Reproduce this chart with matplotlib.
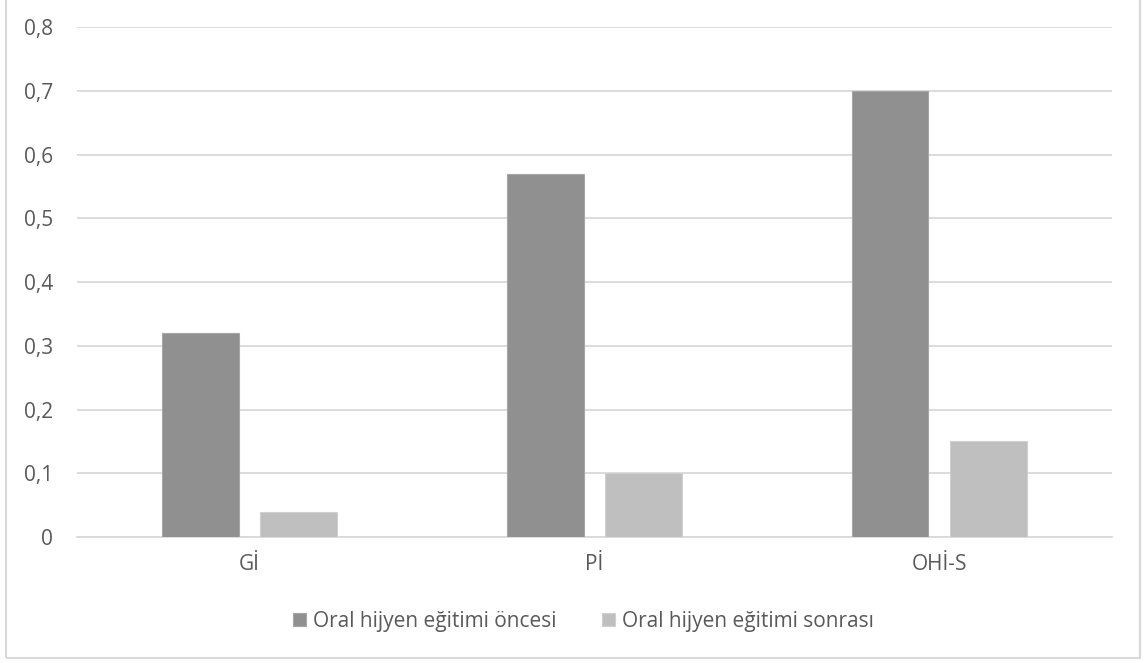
import matplotlib
matplotlib.use("Agg")
import matplotlib.pyplot as plt
import numpy as np
from matplotlib.patches import Rectangle

categories = ["Gİ", "Pİ", "OHİ-S"]
before = [0.32, 0.57, 0.70]
after = [0.04, 0.10, 0.15]
series_names = ["Oral hijyen eğitimi öncesi", "Oral hijyen eğitimi sonrası"]
y_ticks = [0, 0.1, 0.2, 0.3, 0.4, 0.5, 0.6, 0.7, 0.8]

plt.rcParams["font.family"] = ["Open Sans", "DejaVu Sans"]
text_color = "#595959"
grid_color = "#d9d9d9"

fig = plt.figure(figsize=(11.45, 6.63), dpi=100)
ax = fig.add_axes([0.0672, 0.190, 0.9038, 0.769])

x = np.arange(len(categories))
w = 0.223
off = 0.143
ax.bar(x - off, before, w, color="#909090", edgecolor="#a6a6a6", linewidth=0.8,
       label=series_names[0], zorder=3)
ax.bar(x + off, after, w, color="#bfbfbf", edgecolor="#d0d0d0", linewidth=0.8,
       label=series_names[1], zorder=3)

ax.set_xlim(-0.5, len(categories) - 0.5)
ax.set_ylim(0, 0.8)
ax.set_yticks(y_ticks)
ax.set_yticklabels([("%g" % t).replace(".", ",") for t in y_ticks])
ax.set_xticks(x)
ax.set_xticklabels(categories)
ax.tick_params(length=0, labelsize=15, colors=text_color)
ax.tick_params(axis="y", pad=17)
ax.tick_params(axis="x", pad=12)
ax.yaxis.grid(True, color=grid_color, linewidth=1.3)
ax.set_axisbelow(True)
for s in ["left", "right", "top"]:
    ax.spines[s].set_visible(False)
ax.spines["bottom"].set_color(grid_color)
ax.spines["bottom"].set_linewidth(1.3)

leg = fig.legend(loc="center", bbox_to_anchor=(0.5096, 0.063), ncol=2, frameon=False,
                 fontsize=15, handlelength=0.62, handleheight=0.62, handletextpad=0.33,
                 columnspacing=2.2)
for t in leg.get_texts():
    t.set_color(text_color)

# outer chart frame
fig.patches.append(Rectangle((6 / 1145, 5 / 663), 1134 / 1145, 1.0, transform=fig.transFigure,
                             fill=False, edgecolor=grid_color, linewidth=1.5))

fig.savefig("out.png", dpi=100)
